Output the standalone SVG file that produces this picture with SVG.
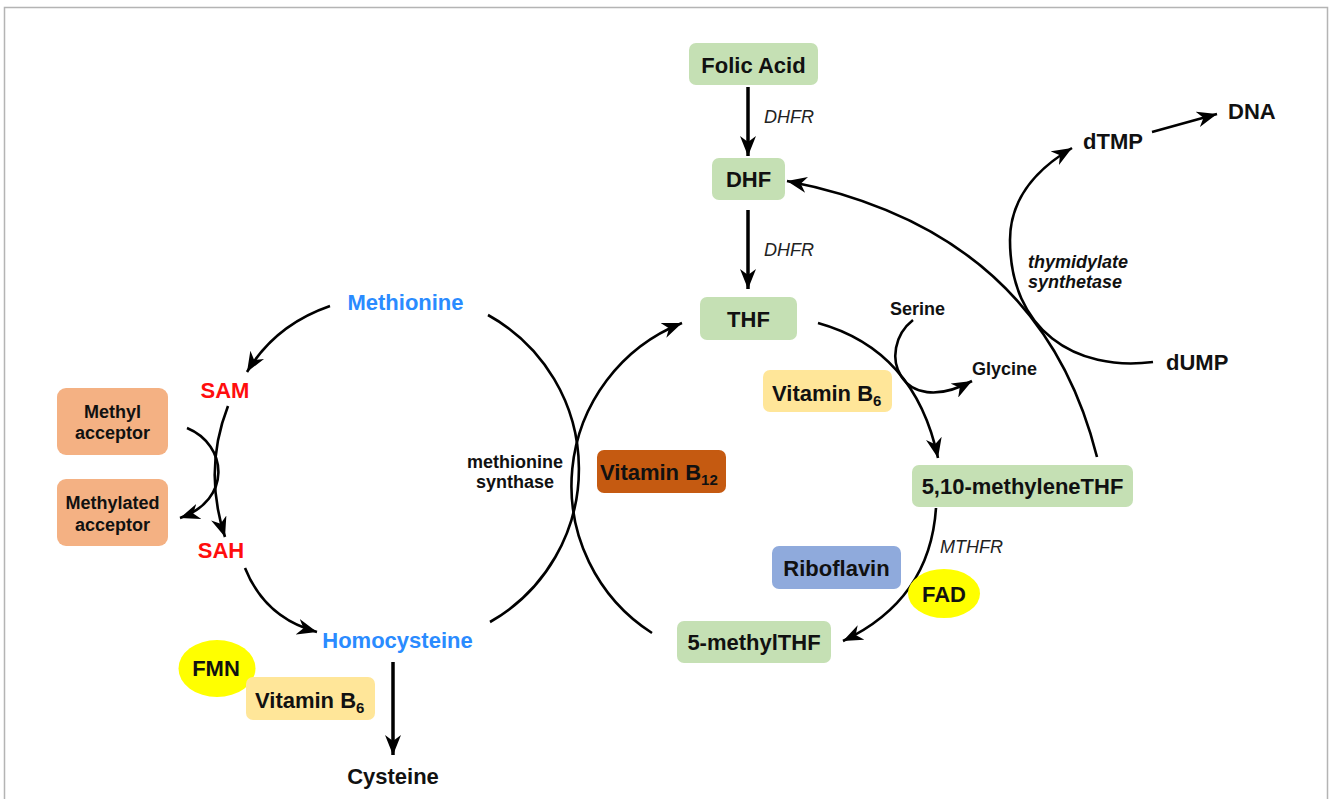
<svg xmlns="http://www.w3.org/2000/svg" width="1330" height="799" viewBox="0 0 1330 799">
<defs>
<style>
text{font-family:"Liberation Sans",Arial,sans-serif;fill:#111}
.b{font-weight:bold;font-size:22px}
.s{font-weight:bold;font-size:18px}
.it{font-style:italic;font-size:18px;fill:#222}
.blue{fill:#2a8bff}
.red{fill:#ff0d0d}
.green{fill:#c5e0b4}
.yel{fill:#ffe699}
.org{fill:#f4b183}
.c{stroke:#000;stroke-width:2.6;fill:none}
.t{stroke:#000;stroke-width:3.5;fill:none}
</style>
<marker id="ah" markerUnits="userSpaceOnUse" markerWidth="22" markerHeight="16" refX="20" refY="8" orient="auto" viewBox="0 0 22 16">
<path d="M0,0 L20,8 L0,16 L6,8 Z" fill="#000"/>
</marker>
</defs>
<rect x="0" y="0" width="1330" height="799" fill="#fff"/>
<path d="M4.5,805 V7.5 H1327.5 V805" fill="none" stroke="#b4b4b4" stroke-width="1.5"/>

<g id="connectors">
<path class="t" d="M748,87 V156" marker-end="url(#ah)"/>
<path class="t" d="M748,210 V289" marker-end="url(#ah)"/>
<path class="c" d="M1097,457 Q1040,230 787,181" marker-end="url(#ah)"/>
<path class="c" d="M1153,362 C1075,372 1010,330 1010,240 C1010,200 1035,170 1072,148" marker-end="url(#ah)"/>
<path class="c" d="M1152,132 L1217,114" marker-end="url(#ah)"/>
<path class="c" d="M818,323 Q915,350 938,458" marker-end="url(#ah)"/>
<path class="c" d="M913,320 C875,350 900,420 972,381" marker-end="url(#ah)"/>
<path class="c" d="M936,508 Q930,600 843,641" marker-end="url(#ah)"/>
<path class="c" d="M652,633 A175,175 0 0 1 682,323" marker-end="url(#ah)"/>
<path class="c" d="M488,315 A176,176 0 0 1 490,622"/>
<path class="c" d="M330,306 Q275,325 247,372" marker-end="url(#ah)"/>
<path class="c" d="M228,406 Q203,470 225,537" marker-end="url(#ah)"/>
<path class="c" d="M187,428 C228,445 232,500 180,518" marker-end="url(#ah)"/>
<path class="c" d="M245,568 Q265,618 317,632" marker-end="url(#ah)"/>
<path class="t" d="M393,662 V755" marker-end="url(#ah)"/>
</g>

<g id="folic"><rect class="green" x="689" y="43" width="129" height="42" rx="7"/><text class="b" x="753.5" y="72.5" text-anchor="middle">Folic Acid</text></g>
<g id="dhfr1"><text class="it" x="764" y="123">DHFR</text></g>
<g id="dhf"><rect class="green" x="712" y="158" width="73" height="42" rx="7"/><text class="b" x="748.5" y="187" text-anchor="middle">DHF</text></g>
<g id="dhfr2"><text class="it" x="764" y="256">DHFR</text></g>
<g id="thf"><rect class="green" x="700" y="297" width="97" height="43" rx="7"/><text class="b" x="748.5" y="327" text-anchor="middle">THF</text></g>
<g id="dtmp"><text class="b" x="1083" y="149">dTMP</text></g>
<g id="dna"><text class="b" x="1228" y="119">DNA</text></g>
<g id="ts"><text class="s" font-style="italic" x="1028" y="268">thymidylate</text><text class="s" font-style="italic" x="1028" y="288">synthetase</text></g>
<g id="dump"><text class="b" x="1166" y="370">dUMP</text></g>
<g id="serine"><text class="s" x="890" y="315">Serine</text></g>
<g id="glycine"><text class="s" x="972" y="375">Glycine</text></g>
<g id="vb6a"><rect class="yel" x="763" y="370" width="129" height="42" rx="7"/><text class="b" x="772" y="401">Vitamin B<tspan font-size="15" dy="5">6</tspan></text></g>
<g id="methylenethf"><rect class="green" x="912" y="465" width="221" height="42" rx="7"/><text class="b" x="1022.5" y="494" text-anchor="middle">5,10-methyleneTHF</text></g>
<g id="mthfr"><text class="it" x="940" y="553">MTHFR</text></g>
<g id="riboflavin"><rect x="772" y="546" width="129" height="43" rx="7" fill="#8faadc"/><text class="b" x="836.5" y="575.5" text-anchor="middle">Riboflavin</text></g>
<g id="fad"><ellipse cx="944" cy="593.5" rx="36" ry="24.5" fill="#ffff00"/><text class="b" x="944" y="601.5" text-anchor="middle">FAD</text></g>
<g id="methylthf"><rect class="green" x="677" y="621" width="154" height="42" rx="7"/><text class="b" x="754" y="650" text-anchor="middle">5-methylTHF</text></g>
<g id="vb12"><rect x="597" y="450" width="129" height="43" rx="7" fill="#c55a11"/><text class="b" x="600" y="479.5">Vitamin B<tspan font-size="15" dy="5">12</tspan></text></g>
<g id="ms"><text class="s" x="515" y="468" text-anchor="middle">methionine</text><text class="s" x="515" y="488" text-anchor="middle">synthase</text></g>
<g id="methionine"><text class="b blue" x="405.5" y="310" text-anchor="middle">Methionine</text></g>
<g id="sam"><text class="b red" x="225" y="397.5" text-anchor="middle">SAM</text></g>
<g id="methylacc"><rect class="org" x="57" y="388" width="111" height="67" rx="9"/><text class="s" x="112.5" y="418" text-anchor="middle">Methyl</text><text class="s" x="112.5" y="439" text-anchor="middle">acceptor</text></g>
<g id="methylatedacc"><rect class="org" x="57" y="479" width="111" height="67" rx="9"/><text class="s" x="112.5" y="509" text-anchor="middle">Methylated</text><text class="s" x="112.5" y="531" text-anchor="middle">acceptor</text></g>
<g id="sah"><text class="b red" x="221" y="558" text-anchor="middle">SAH</text></g>
<g id="homocysteine"><text class="b blue" x="397.5" y="648" text-anchor="middle">Homocysteine</text></g>
<g id="fmn"><ellipse cx="217" cy="668.5" rx="38.5" ry="28.5" fill="#ffff00"/><text class="b" x="216" y="676" text-anchor="middle">FMN</text></g>
<g id="vb6b"><rect class="yel" x="246" y="677" width="129" height="43" rx="7"/><text class="b" x="255" y="708">Vitamin B<tspan font-size="15" dy="5">6</tspan></text></g>
<g id="cysteine"><text class="b" x="393" y="784" text-anchor="middle">Cysteine</text></g>
</svg>
